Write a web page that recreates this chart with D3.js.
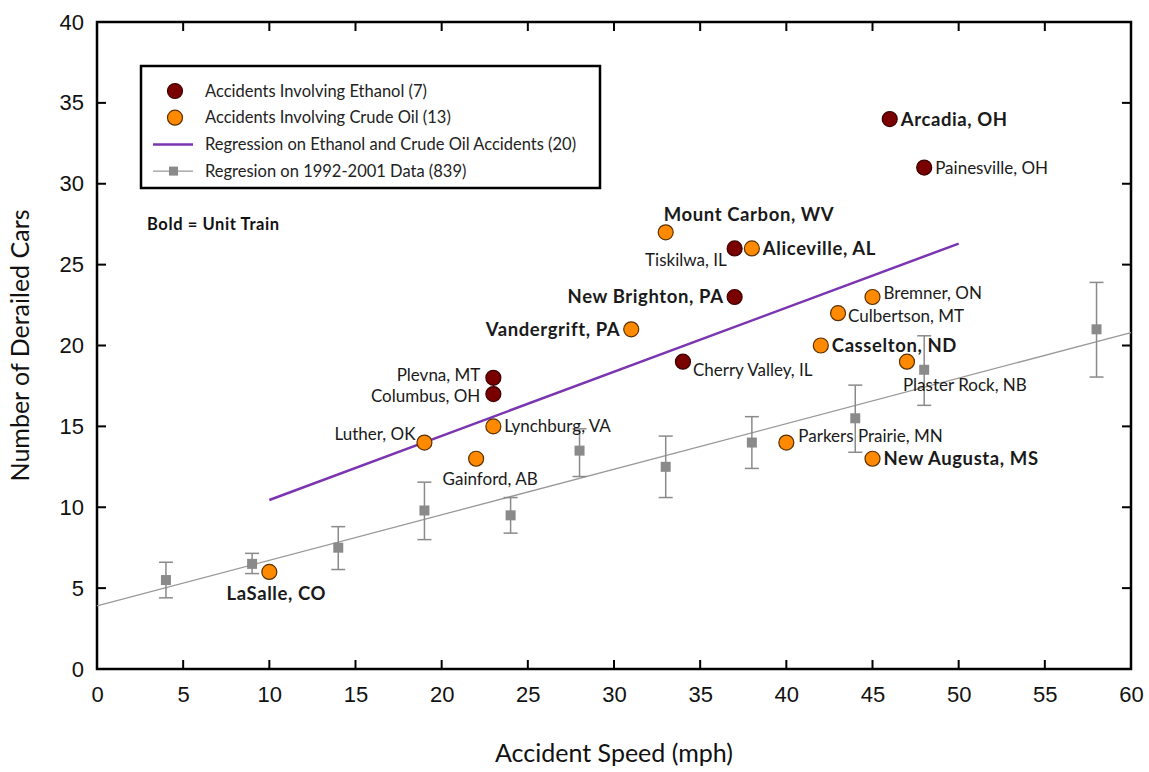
<!DOCTYPE html>
<html>
<head>
<meta charset="utf-8">
<script src="https://cdn.jsdelivr.net/npm/d3@7"></script>
<style>
  body { margin: 0; background: #fff; }
  svg { font-family: Lato, 'Open Sans', sans-serif; }
</style>
</head>
<body>
<svg id="chart" width="1149" height="772"></svg>
<script>
// ethanol accidents: speed (mph), derailed cars, site, unit train?
const ethanolSpeed = [46, 48, 37, 37, 34, 23, 23]
const ethanolCars = [34, 31, 26, 23, 19, 18, 17]
const ethanolSite = ['Arcadia, OH', 'Painesville, OH', 'Tiskilwa, IL', 'New Brighton, PA', 'Cherry Valley, IL', 'Plevna, MT', 'Columbus, OH']
const ethanolUnit = [true, false, false, true, false, false, false]
const ethanolPlace = ['r', 'r', 'bl', 'l', 'br', 'lu', 'ld']

// crude oil accidents
const crudeSpeed = [33, 38, 31, 45, 43, 42, 47, 19, 23, 22, 40, 45, 10]
const crudeCars = [27, 26, 21, 23, 22, 20, 19, 14, 15, 13, 14, 13, 6]
const crudeSite = ['Mount Carbon, WV', 'Aliceville, AL', 'Vandergrift, PA', 'Bremner, ON', 'Culbertson, MT', 'Casselton, ND',
	'Plaster Rock, NB', 'Luther, OK', 'Lynchburg, VA', 'Gainford, AB', 'Parkers Prairie, MN', 'New Augusta, MS', 'LaSalle, CO']
const crudeUnit = [true, true, true, false, false, true, false, false, false, false, false, true, true]
const crudePlace = ['ar', 'r', 'l', 'ru', 'rd', 'r', 'bs', 'al', 'r', 'bm', 'pk', 'r', 'b']

// 1992-2001 data: mean with error range
const histSpeed = [4, 9, 14, 19, 24, 28, 33, 38, 44, 48, 58]
const histCars = [5.5, 6.5, 7.5, 9.8, 9.5, 13.5, 12.5, 14.0, 15.5, 18.5, 21.0]
const histLow = [4.4, 5.9, 6.15, 8.0, 8.4, 11.9, 10.6, 12.4, 13.4, 16.3, 18.05]
const histHigh = [6.6, 7.15, 8.8, 11.55, 10.6, 14.85, 14.4, 15.6, 17.55, 20.6, 23.9]

// regression lines read as end points
const regAllX = [10, 50]
const regAllY = [10.45, 26.3]
const regHistX = [0, 60]
const regHistY = [3.9, 20.8]

const xTicks = d3.range(0, 61, 5)
const yTicks = d3.range(0, 41, 5)

const legendItems = [
	{ kind: 'ethanol', text: 'Accidents Involving Ethanol (7)' },
	{ kind: 'crude', text: 'Accidents Involving Crude Oil (13)' },
	{ kind: 'reg', text: 'Regression on Ethanol and Crude Oil Accidents (20)' },
	{ kind: 'hist', text: 'Regresion on 1992-2001 Data (839)' },
]

const colEthanol = '#7a0000'
const colCrude = '#ff8a00'
const colPurple = '#7b35b0'
const colGray = '#8a8a8a'

const svg = d3.select('#chart')
const m = { left: 97, right: 1131, top: 22, bottom: 669 }
const x = d3.scaleLinear().domain([0, 60]).range([m.left, m.right])
const y = d3.scaleLinear().domain([0, 40]).range([m.bottom, m.top])

// axis labels from d3 axes, frame and inward ticks drawn separately
svg.append('g').attr('transform', `translate(0,${m.bottom})`)
	.call(d3.axisBottom(x).tickValues(xTicks).tickSize(0).tickPadding(17))
	.call(g => g.select('.domain').remove())
svg.append('g').attr('transform', `translate(${m.left},0)`)
	.call(d3.axisLeft(y).tickValues(yTicks).tickSize(0).tickPadding(13))
	.call(g => g.select('.domain').remove())
svg.selectAll('.tick text').attr('font-size', 22).attr('fill', '#111')

const tickLen = 9
const gTicks = svg.append('g').attr('stroke', '#000').attr('stroke-width', 2)
gTicks.selectAll('.xb').data(xTicks.slice(1, -1)).enter().append('line')
	.attr('x1', d => x(d)).attr('x2', d => x(d)).attr('y1', m.bottom).attr('y2', m.bottom - tickLen)
gTicks.selectAll('.xt').data(xTicks.slice(1, -1)).enter().append('line')
	.attr('x1', d => x(d)).attr('x2', d => x(d)).attr('y1', m.top).attr('y2', m.top + tickLen)
gTicks.selectAll('.yl').data(yTicks.slice(1, -1)).enter().append('line')
	.attr('y1', d => y(d)).attr('y2', d => y(d)).attr('x1', m.left).attr('x2', m.left + tickLen)
gTicks.selectAll('.yr').data(yTicks.slice(1, -1)).enter().append('line')
	.attr('y1', d => y(d)).attr('y2', d => y(d)).attr('x1', m.right).attr('x2', m.right - tickLen)
svg.append('rect').attr('x', m.left).attr('y', m.top)
	.attr('width', m.right - m.left).attr('height', m.bottom - m.top)
	.attr('fill', 'none').attr('stroke', '#000').attr('stroke-width', 2.5)

svg.append('text').attr('x', (m.left + m.right) / 2).attr('y', 762)
	.attr('text-anchor', 'middle').attr('font-size', 25).attr('fill', '#111')
	.text('Accident Speed (mph)')
svg.append('text').attr('transform', `translate(29,${(m.top + m.bottom) / 2}) rotate(-90)`)
	.attr('text-anchor', 'middle').attr('font-size', 25).attr('fill', '#111')
	.text('Number of Derailed Cars')

const line = d3.line().x(d => x(d[0])).y(d => y(d[1]))

// 1992-2001 regression and error bars
svg.append('path').attr('d', line(d3.zip(regHistX, regHistY)))
	.attr('fill', 'none').attr('stroke', '#999').attr('stroke-width', 1.3)

const hist = d3.range(histSpeed.length).map(i => ({ x: histSpeed[i], y: histCars[i], lo: histLow[i], hi: histHigh[i] }))
const gHist = svg.append('g').selectAll('g').data(hist).enter().append('g')
gHist.append('line')
	.attr('x1', d => x(d.x)).attr('x2', d => x(d.x))
	.attr('y1', d => y(d.lo)).attr('y2', d => y(d.hi))
	.attr('stroke', colGray).attr('stroke-width', 1.5)
gHist.selectAll('.cap').data(d => [[d.x, d.lo], [d.x, d.hi]]).enter().append('line')
	.attr('x1', d => x(d[0]) - 7).attr('x2', d => x(d[0]) + 7)
	.attr('y1', d => y(d[1])).attr('y2', d => y(d[1]))
	.attr('stroke', colGray).attr('stroke-width', 1.5)
gHist.append('rect')
	.attr('x', d => x(d.x) - 5).attr('y', d => y(d.y) - 5)
	.attr('width', 10).attr('height', 10).attr('fill', colGray)

// regression on ethanol + crude oil
svg.append('path').attr('d', line(d3.zip(regAllX, regAllY)))
	.attr('fill', 'none').attr('stroke', colPurple).attr('stroke-width', 2.5)

// accident points and labels
const toPoints = (sp, cars, site, unit, place, kind) => sp.map((s, i) => ({
	x: s, y: cars[i], site: site[i], unit: unit[i], place: place[i], kind,
}))
const points = [
	...toPoints(crudeSpeed, crudeCars, crudeSite, crudeUnit, crudePlace, 'crude'),
	...toPoints(ethanolSpeed, ethanolCars, ethanolSite, ethanolUnit, ethanolPlace, 'ethanol'),
]

// label placement codes -> [dx, dy, anchor]
const offsets = {
	r: [11, 0, 'start'], l: [-11, 0, 'end'], ru: [11, -4, 'start'], rd: [10, 3, 'start'], pk: [12, -7, 'start'],
	bl: [-8, 12, 'end'], br: [10, 8, 'start'], ar: [-2, -18, 'start'], al: [-9, -9, 'end'],
	bs: [-4, 23, 'start'], bm: [14, 20, 'middle'], b: [7, 22, 'middle'],
	lu: [-13, -2.5, 'end'], ld: [-13, 2.5, 'end'],
}

const gPts = svg.append('g')
gPts.selectAll('circle').data(points).enter().append('circle')
	.attr('cx', d => x(d.x)).attr('cy', d => y(d.y)).attr('r', 7.5)
	.attr('fill', d => d.kind === 'ethanol' ? colEthanol : colCrude)
	.attr('stroke', d => d.kind === 'ethanol' ? '#3a0000' : '#5a3000').attr('stroke-width', 1.2)

gPts.selectAll('text').data(points).enter().append('text')
	.attr('x', d => x(d.x) + offsets[d.place][0])
	.attr('y', d => y(d.y) + offsets[d.place][1])
	.attr('dy', '0.35em')
	.attr('text-anchor', d => offsets[d.place][2])
	.attr('font-size', d => d.unit ? 18.5 : 17)
	.attr('letter-spacing', d => d.unit ? 0.6 : 0)
	.attr('font-weight', d => d.unit ? 'bold' : 'normal')
	.attr('fill', '#1a1a1a')
	.text(d => d.site)

// legend
const gLeg = svg.append('g')
gLeg.append('rect').attr('x', 141).attr('y', 66).attr('width', 459).attr('height', 122)
	.attr('fill', '#fff').attr('stroke', '#000').attr('stroke-width', 2.5)
const rows = gLeg.selectAll('g').data(legendItems).enter().append('g')
	.attr('transform', (d, i) => `translate(0,${91 + i * 26.7})`)
rows.filter(d => d.kind === 'ethanol' || d.kind === 'crude').append('circle')
	.attr('cx', 175).attr('r', 7.5)
	.attr('fill', d => d.kind === 'ethanol' ? colEthanol : colCrude)
	.attr('stroke', d => d.kind === 'ethanol' ? '#3a0000' : '#5a3000').attr('stroke-width', 1.2)
rows.filter(d => d.kind === 'reg').append('line')
	.attr('x1', 153).attr('x2', 193).attr('stroke', colPurple).attr('stroke-width', 2.5)
const histRow = rows.filter(d => d.kind === 'hist')
histRow.append('line').attr('x1', 153).attr('x2', 193).attr('stroke', '#999').attr('stroke-width', 1.3)
histRow.append('rect').attr('x', 169).attr('y', -4.5).attr('width', 9).attr('height', 9).attr('fill', colGray)
rows.append('text').attr('x', 205).attr('dy', '0.35em').attr('font-size', 16.5).attr('fill', '#222')
	.text(d => d.text)

svg.append('text').attr('x', 147).attr('y', 224).attr('dy', '0.35em')
	.attr('font-size', 16.5).attr('font-weight', 'bold').attr('letter-spacing', 0.6).attr('fill', '#111')
	.text('Bold = Unit Train')
</script>
</body>
</html>
